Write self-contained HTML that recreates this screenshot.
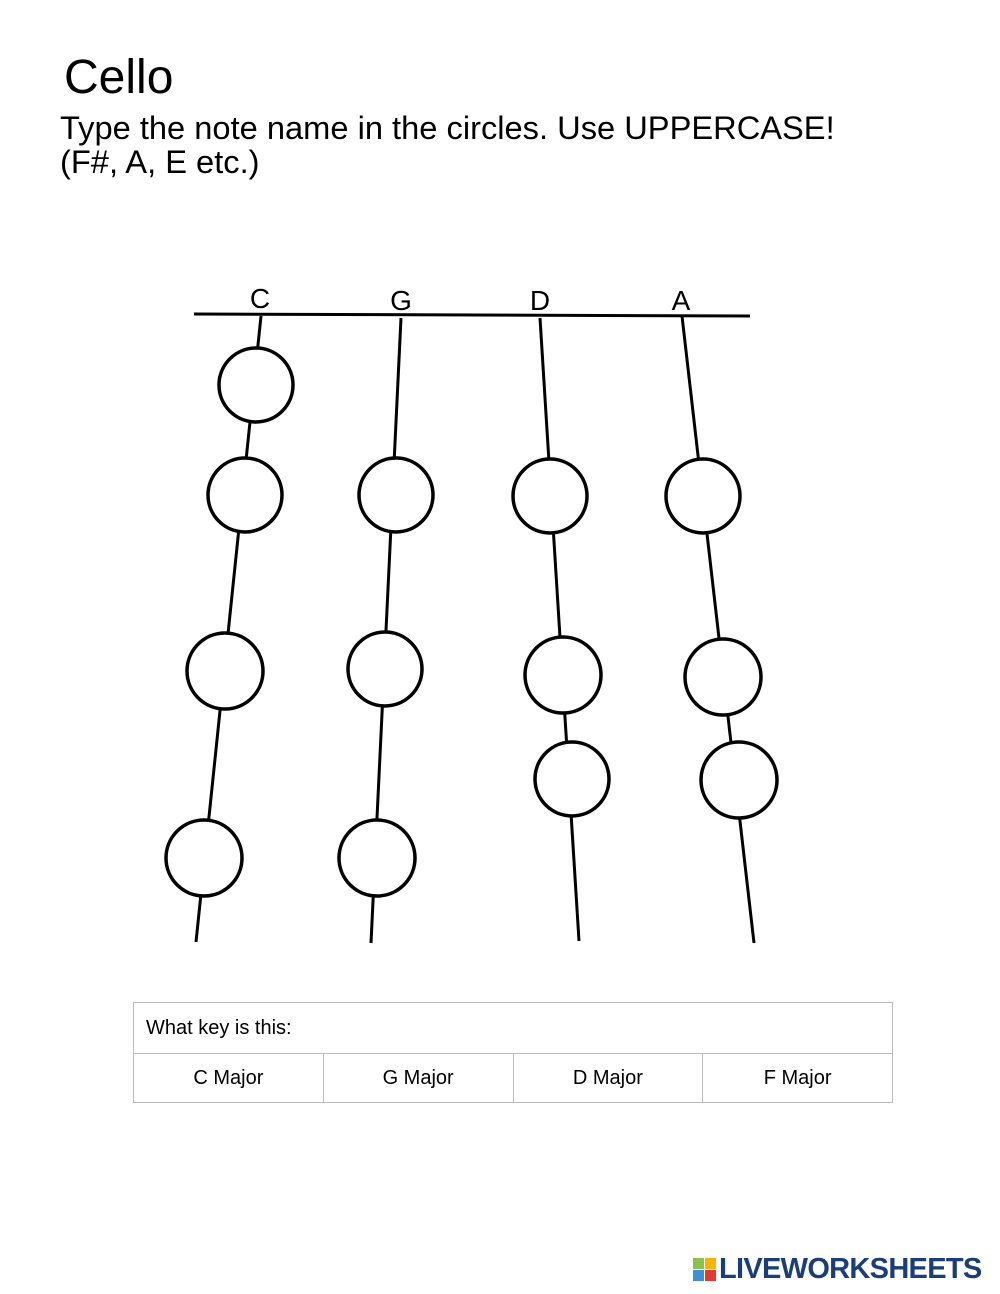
<!DOCTYPE html>
<html><head><style>
body{margin:0;width:1000px;height:1294px;background:#fff;position:relative;font-family:"Liberation Sans",sans-serif;overflow:hidden}
.t{position:absolute;color:#000}
table{position:absolute;left:133px;top:1002px;width:760px;border-collapse:collapse;font-size:20px;table-layout:fixed}
td{border:1.5px solid #bbb;height:48px;text-align:center;padding:0}
</style></head><body>
<div class="t" style="left:64px;top:50px;font-size:48px;">Cello</div>
<div class="t" style="left:60px;top:111px;font-size:32px;line-height:34px;transform:scaleX(1.02);transform-origin:0 0">Type the note name in the circles. Use UPPERCASE!<br>(F#, A, E etc.)</div>
<svg style="position:absolute;left:0;top:0" width="1000" height="1000">
<g stroke="#000" stroke-width="3" fill="none">
<line x1="194" y1="314" x2="750" y2="316"/>
<line x1="261" y1="316" x2="196" y2="942"/>
<line x1="401" y1="318" x2="371" y2="943"/>
<line x1="540" y1="318" x2="579" y2="941"/>
<line x1="682" y1="316" x2="754" y2="943"/>
</g>
<g stroke="#000" stroke-width="3.5" fill="#fff">
<circle cx="256" cy="385" r="37"/><circle cx="245" cy="495" r="37"/><circle cx="225" cy="671" r="38"/><circle cx="204" cy="858" r="38"/>
<circle cx="396" cy="495" r="37"/><circle cx="385" cy="669" r="37"/><circle cx="377" cy="858" r="38"/>
<circle cx="550" cy="496" r="37"/><circle cx="563" cy="675" r="38"/><circle cx="572" cy="779" r="37"/>
<circle cx="703" cy="496" r="37"/><circle cx="723" cy="677" r="38"/><circle cx="739" cy="780" r="38"/>
</g>
<g font-size="28" font-family="Liberation Sans" text-anchor="middle" fill="#000">
<text x="260" y="308">C</text><text x="401" y="310">G</text><text x="540" y="310">D</text><text x="681" y="310">A</text>
</g>
</svg>
<table>
<tr><td colspan="4" style="text-align:left;padding-left:12px;height:50px">What key is this:</td></tr>
<tr><td>C Major</td><td>G Major</td><td>D Major</td><td>F Major</td></tr>
</table>
<div style="position:absolute;left:693px;top:1258px;width:24px;height:24px">
<div style="position:absolute;left:0;top:0;width:11px;height:11px;background:#8bc34a"></div>
<div style="position:absolute;left:12px;top:0;width:11px;height:11px;background:#f5b400"></div>
<div style="position:absolute;left:0;top:12px;width:11px;height:11px;background:#3f8fd8"></div>
<div style="position:absolute;left:12px;top:12px;width:11px;height:11px;background:#e53935"></div>
</div>
<div class="t" style="left:719px;top:1253px;font-size:29px;font-weight:bold;color:#1a3e7a;letter-spacing:-0.7px">LIVEWORKSHEETS</div>
</body></html>
